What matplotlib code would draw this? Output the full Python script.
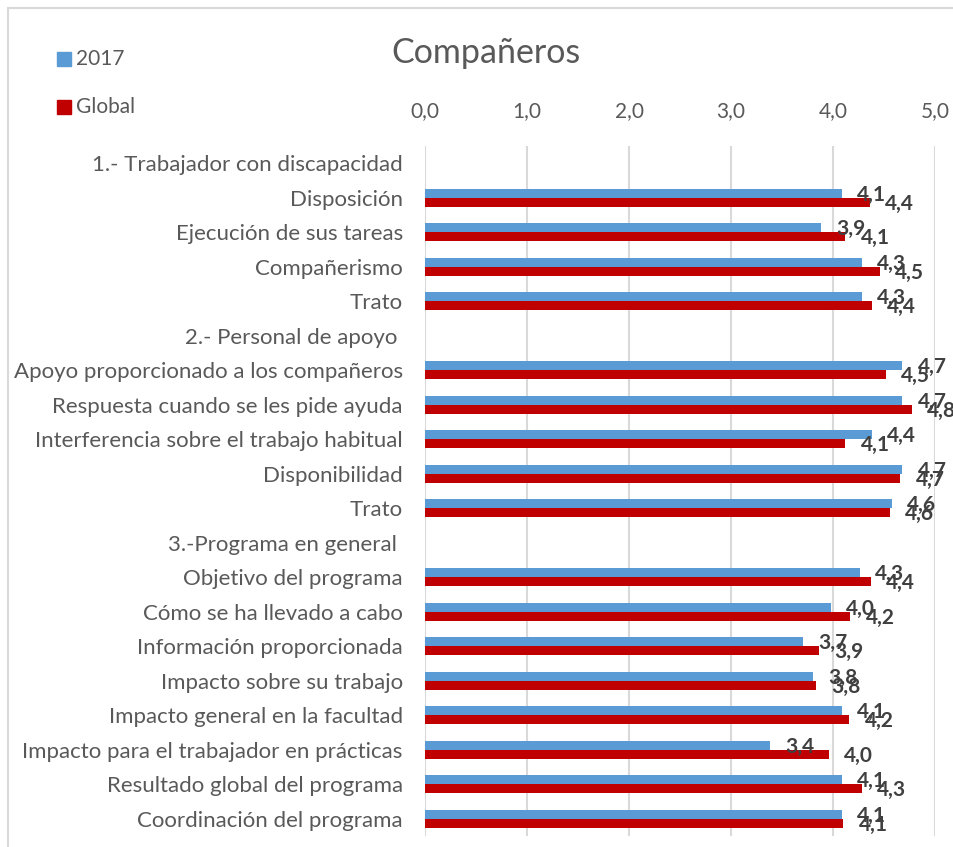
import matplotlib
matplotlib.use("Agg")
import matplotlib.pyplot as plt
from matplotlib.patches import Rectangle
import numpy as np

plt.rcParams['font.family'] = ['Lato', 'DejaVu Sans']

# data
categories = [
    "1.- Trabajador con discapacidad",
    "Disposición",
    "Ejecución de sus tareas",
    "Compañerismo",
    "Trato",
    "2.- Personal de apoyo ",
    "Apoyo proporcionado a los compañeros",
    "Respuesta cuando se les pide ayuda",
    "Interferencia sobre el trabajo habitual",
    "Disponibilidad",
    "Trato",
    "3.-Programa en general ",
    "Objetivo del programa",
    "Cómo se ha llevado a cabo",
    "Información proporcionada",
    "Impacto sobre su trabajo",
    "Impacto general en la facultad",
    "Impacto para el trabajador en prácticas",
    "Resultado global del programa",
    "Coordinación del programa",
]
nan = np.nan
vals_2017 = [nan, 4.09, 3.88, 4.28, 4.28, nan, 4.68, 4.68, 4.38, 4.68, 4.58,
             nan, 4.26, 3.98, 3.71, 3.80, 4.09, 3.38, 4.09, 4.09]
vals_global = [nan, 4.36, 4.12, 4.46, 4.38, nan, 4.52, 4.77, 4.12, 4.66, 4.56,
               nan, 4.37, 4.17, 3.86, 3.83, 4.16, 3.96, 4.28, 4.10]
series_names = ["2017", "Global"]
series_colors = ["#5b9bd5", "#c00000"]
xticks = [0, 1, 2, 3, 4, 5]

W, H = 954, 847
fig = plt.figure(figsize=(W / 100, H / 100), dpi=100)
ax = fig.add_axes([425 / W, 1 - 836 / H, 510 / W, 690 / H])

y = np.arange(len(categories))
bh = 0.265
txt = "#595959"
lab = "#404040"

for k, (vals, color) in enumerate(zip([vals_2017, vals_global], series_colors)):
    yy = y - bh / 2 + k * bh
    ax.barh(yy, vals, height=bh, color=color, zorder=3)
    for yi, v in zip(yy, vals):
        if np.isnan(v):
            continue
        ax.annotate(f"{v:.1f}".replace(".", ","), xy=(v, yi), xytext=(11, -1),
                    textcoords="offset points", ha="left", va="center",
                    fontsize=15, fontweight="bold", color=lab, zorder=4)

ax.set_xlim(0, 5)
ax.set_ylim(len(categories) - 0.5, -0.5)
ax.set_xticks(xticks)
ax.set_xticklabels([f"{t:.1f}".replace(".", ",") for t in xticks])
ax.xaxis.tick_top()
ax.tick_params(axis="x", length=0, pad=18, labelsize=15, labelcolor=txt)
ax.set_yticks(y)
ax.set_yticklabels(categories)
ax.tick_params(axis="y", length=0, pad=16, labelsize=16, labelcolor=txt)
for s in ax.spines.values():
    s.set_visible(False)
ax.grid(axis="x", color="#d9d9d9", linewidth=1.5, zorder=0)
ax.set_axisbelow(True)

# title
fig.text(486 / W, 1 - 63 / H, "Compañeros", ha="center", va="baseline",
         fontsize=24.5, color=txt)

# legend
for i, (name, color) in enumerate(zip(series_names, series_colors)):
    top = 52 + i * 48
    fig.patches.append(Rectangle((57 / W, 1 - (top + 14) / H), 14 / W, 14 / H,
                                 transform=fig.transFigure, color=color))
    fig.text(76 / W, 1 - (top + 7) / H, name, ha="left", va="center",
             fontsize=15, color=txt)

# outer frame
fig.patches.append(Rectangle((8 / W, -0.1), 1.2, 1.1 - 8 / H,
                             transform=fig.transFigure, fill=False,
                             edgecolor="#d9d9d9", linewidth=1.5))

plt.savefig("out.png", dpi=100)
